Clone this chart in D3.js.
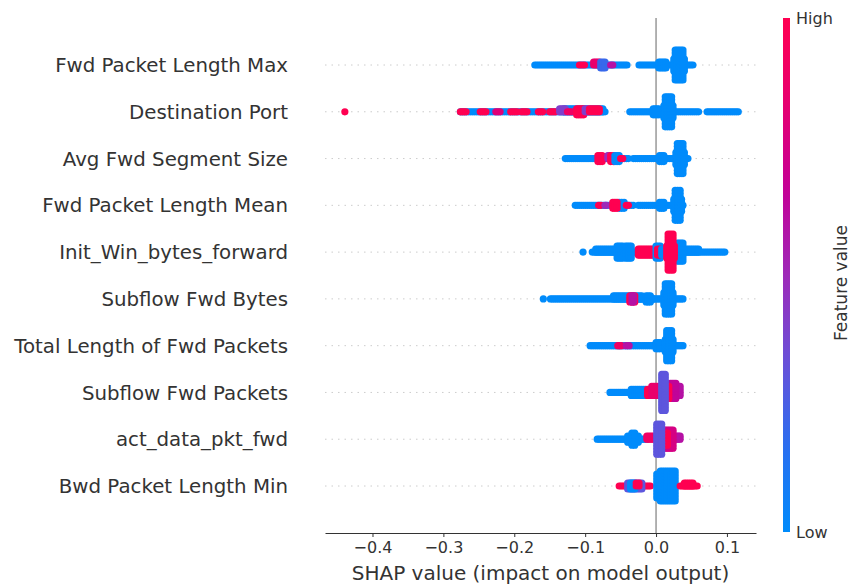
<!DOCTYPE html>
<html>
<head>
<meta charset="utf-8">
<script src="https://cdn.jsdelivr.net/npm/d3@7"></script>
<style>
  body { margin: 0; background: #fff; }
  text { font-family: "DejaVu Sans", sans-serif; }
</style>
</head>
<body>
<div id="chart"></div>
<script>
// feature names, top to bottom
const features = [
  "Fwd Packet Length Max",
  "Destination Port",
  "Avg Fwd Segment Size",
  "Fwd Packet Length Mean",
  "Init_Win_bytes_forward",
  "Subflow Fwd Bytes",
  "Total Length of Fwd Packets",
  "Subflow Fwd Packets",
  "act_data_pkt_fwd",
  "Bwd Packet Length Min"
];

// runs of samples per feature: [shapFrom, shapTo, stackCount, featureValue(0 low .. 1 high)]
const fwdMaxRuns = [
  [-0.171, -0.041, 1, 0],
  [-0.108, -0.101, 1, 1],
  [-0.088, -0.080, 2, 0.85],
  [-0.078, -0.072, 3, 0.2],
  [-0.064, -0.061, 1, 0.6],
  [-0.024, 0.052, 1, 0],
  [0.004, 0.014, 3, 0],
  [0.025, 0.040, 5, 0],
  [0.027, 0.038, 11, 0]
];
const destPortRuns = [
  [-0.439, -0.439, 1, 1],
  [-0.276, -0.072, 1, 0],
  [-0.130, -0.075, 2, 0],
  [-0.276, -0.268, 1, 1],
  [-0.248, -0.240, 1, 1],
  [-0.226, -0.220, 1, 0.8],
  [-0.205, -0.196, 1, 1],
  [-0.190, -0.182, 1, 1],
  [-0.166, -0.160, 1, 1],
  [-0.150, -0.142, 1, 1],
  [-0.136, -0.128, 2, 0.4],
  [-0.125, -0.119, 1, 0.9],
  [-0.112, -0.102, 3, 1],
  [-0.100, -0.097, 2, 0.4],
  [-0.094, -0.080, 2, 1],
  [-0.037, 0.060, 1, 0],
  [-0.004, 0.004, 3, 0],
  [0.011, 0.024, 5, 0],
  [0.013, 0.022, 11, 0],
  [0.072, 0.116, 1, 0]
];
const avgFwdSegRuns = [
  [-0.128, -0.039, 1, 0],
  [-0.082, -0.076, 3, 1],
  [-0.068, -0.066, 2, 0.5],
  [-0.064, -0.060, 3, 1],
  [-0.058, -0.052, 3, 0],
  [-0.050, -0.047, 1, 1],
  [-0.032, 0.045, 1, 0],
  [0.005, 0.011, 3, 0],
  [0.028, 0.040, 5, 0],
  [0.030, 0.038, 11, 0]
];
const fwdMeanRuns = [
  [-0.114, -0.032, 1, 0],
  [-0.081, -0.078, 1, 1],
  [-0.072, -0.070, 1, 0.5],
  [-0.052, -0.045, 3, 0],
  [-0.061, -0.055, 3, 1],
  [-0.042, -0.039, 1, 1],
  [-0.025, 0.038, 1, 0],
  [0.005, 0.011, 3, 0],
  [0.025, 0.036, 5, 0],
  [0.027, 0.034, 11, 0]
];
const initWinRuns = [
  [-0.103, -0.103, 1, 0],
  [-0.090, -0.027, 1, 0],
  [-0.085, -0.060, 2, 0],
  [-0.055, -0.047, 5, 0],
  [-0.043, -0.035, 5, 0],
  [-0.025, -0.001, 3, 1],
  [0.000, 0.006, 5, 0],
  [0.002, 0.006, 3, 1],
  [0.008, 0.016, 3, 0],
  [0.024, 0.097, 1, 0],
  [0.038, 0.060, 2, 0],
  [0.030, 0.038, 7, 0],
  [0.015, 0.026, 5, 1],
  [0.017, 0.024, 13, 1]
];
const subflowBytesRuns = [
  [-0.159, -0.159, 1, 0],
  [-0.149, -0.004, 1, 0],
  [-0.060, -0.020, 2, 0],
  [-0.037, -0.030, 3, 1],
  [-0.034, -0.032, 3, 0.6],
  [-0.014, -0.008, 3, 0],
  [-0.004, 0.038, 1, 0],
  [0.011, 0.024, 5, 0],
  [0.013, 0.022, 11, 0]
];
const totalLenRuns = [
  [-0.093, 0.038, 1, 0],
  [-0.054, -0.049, 1, 0.9],
  [-0.042, -0.038, 1, 0.6],
  [0.000, 0.006, 3, 0],
  [0.013, 0.024, 5, 0],
  [0.015, 0.022, 11, 0]
];
const subflowPktsRuns = [
  [-0.065, -0.013, 1, 0],
  [-0.035, -0.015, 3, 0],
  [-0.012, -0.006, 3, 1],
  [-0.006, 0.002, 4, 0.85],
  [0.018, 0.034, 4, 0.6],
  [0.020, 0.028, 6, 0.65],
  [0.015, 0.018, 5, 1],
  [0.008, 0.013, 13, 0.3]
];
const actDataRuns = [
  [-0.083, -0.013, 1, 0],
  [-0.040, -0.025, 3, 0],
  [-0.034, -0.030, 5, 0],
  [-0.013, -0.004, 2, 0.9],
  [0.024, 0.034, 2, 0.6],
  [0.010, 0.024, 7, 0.75],
  [0.012, 0.016, 5, 1],
  [0.001, 0.008, 11, 0.3]
];
const bwdMinRuns = [
  [-0.052, -0.008, 1, 1],
  [-0.040, -0.020, 3, 0.3],
  [-0.036, -0.030, 3, 0],
  [-0.028, -0.024, 2, 1],
  [0.001, 0.006, 9, 0],
  [0.006, 0.027, 11, 0],
  [0.034, 0.058, 1, 1],
  [0.040, 0.052, 2, 1]
];

const runsByFeature = [
  fwdMaxRuns, destPortRuns, avgFwdSegRuns, fwdMeanRuns, initWinRuns,
  subflowBytesRuns, totalLenRuns, subflowPktsRuns, actDataRuns, bwdMinRuns
];

const xTicks = [-0.4, -0.3, -0.2, -0.1, 0.0, 0.1];
const xDomain = [-0.467, 0.141];
// shap red_blue colour map, low -> high
const cmapStops = ["#008bfb", "#2a6ef0", "#6a50d8", "#9e2ab8", "#c40096", "#e6006f", "#ff0051"];

const width = 850, height = 587;
const plotLeft = 325, plotRight = 756, axisY = 533, plotTop = 18;

const svg = d3.select("#chart").append("svg")
  .attr("width", width)
  .attr("height", height);

const x = d3.scaleLinear().domain(xDomain).range([plotLeft, plotRight]);
const y = d3.scalePoint().domain(features).range([65, 486]);
const color = d3.scaleSequential(d3.piecewise(d3.interpolateRgb, cmapStops)).domain([0, 1]);

// row guide lines
svg.append("g").selectAll("line")
  .data(features)
  .enter().append("line")
  .attr("x1", plotLeft).attr("x2", plotRight)
  .attr("y1", d => y(d)).attr("y2", d => y(d))
  .style("stroke", "#cccccc")
  .style("stroke-width", 1)
  .style("stroke-dasharray", "1.5,5");

// zero line
svg.append("line")
  .attr("x1", x(0)).attr("x2", x(0))
  .attr("y1", plotTop).attr("y2", axisY)
  .style("stroke", "#999999")
  .style("stroke-width", 1.5);

// expand each run into stacked dots
const r = 3.6, stepX = 2, stepY = 3;
const dots = [];
runsByFeature.forEach((runs, i) => {
  const cy = y(features[i]);
  runs.forEach(([a, b, n, v]) => {
    const x0 = x(a), x1 = x(b);
    const count = Math.max(1, Math.round((x1 - x0) / stepX) + 1);
    for (let k = 0; k < count; k++) {
      const px = count === 1 ? x0 : x0 + (x1 - x0) * k / (count - 1);
      for (let j = 0; j < n; j++) {
        const off = j === 0 ? 0 : Math.ceil(j / 2) * (j % 2 ? -1 : 1) * stepY;
        dots.push({ px, py: cy + off, v });
      }
    }
  });
});

svg.append("g").selectAll("circle")
  .data(dots)
  .enter().append("circle")
  .attr("cx", d => d.px)
  .attr("cy", d => d.py)
  .attr("r", r)
  .style("fill", d => color(d.v));

// feature labels
svg.append("g").selectAll("text")
  .data(features)
  .enter().append("text")
  .attr("x", 288)
  .attr("y", d => y(d))
  .attr("dy", "0.36em")
  .attr("text-anchor", "end")
  .style("font-size", "19.8px")
  .style("fill", "#333333")
  .text(d => d);

// x axis
const xAxis = svg.append("g")
  .attr("transform", `translate(0,${axisY})`)
  .call(d3.axisBottom(x)
    .tickValues(xTicks)
    .tickFormat(d3.format(".1f"))
    .tickSizeInner(4)
    .tickSizeOuter(0)
    .tickPadding(5));
xAxis.select(".domain").style("stroke", "#333333").style("stroke-width", 1.2);
xAxis.selectAll(".tick line").style("stroke", "#333333");
xAxis.selectAll("text")
  .style("font-size", "16px")
  .style("fill", "#333333")
  .style("font-family", "DejaVu Sans, sans-serif");

svg.append("text")
  .attr("x", (plotLeft + plotRight) / 2)
  .attr("y", 580)
  .attr("text-anchor", "middle")
  .style("font-size", "20px")
  .style("fill", "#333333")
  .text("SHAP value (impact on model output)");

// colour bar
const defs = svg.append("defs");
const grad = defs.append("linearGradient")
  .attr("id", "cbar")
  .attr("x1", 0).attr("x2", 0).attr("y1", 1).attr("y2", 0);
d3.range(0, 1.0001, 0.05).forEach(t => {
  grad.append("stop").attr("offset", t).attr("stop-color", color(t));
});
const cbTop = 18, cbBottom = 532;
svg.append("rect")
  .attr("x", 783).attr("y", cbTop)
  .attr("width", 7).attr("height", cbBottom - cbTop)
  .style("fill", "url(#cbar)");

svg.append("text")
  .attr("x", 796).attr("y", cbTop).attr("dy", "0.36em")
  .style("font-size", "16px").style("fill", "#333333")
  .text("High");
svg.append("text")
  .attr("x", 796).attr("y", cbBottom).attr("dy", "0.36em")
  .style("font-size", "16px").style("fill", "#333333")
  .text("Low");
svg.append("text")
  .attr("transform", `translate(841,${(cbTop + cbBottom) / 2 + 8}) rotate(-90)`)
  .attr("text-anchor", "middle")
  .attr("dy", "0.36em")
  .style("font-size", "17px")
  .style("fill", "#333333")
  .text("Feature value");
</script>
</body>
</html>
